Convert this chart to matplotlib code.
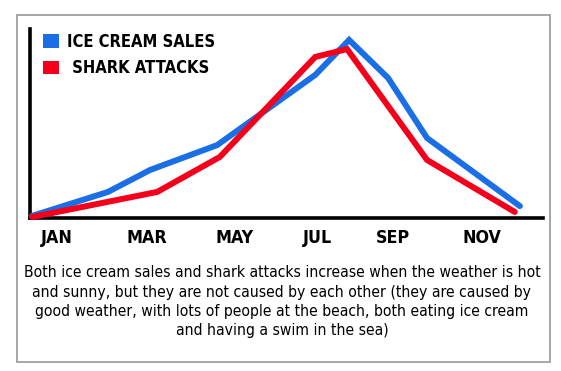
import matplotlib
matplotlib.use("Agg")
import matplotlib.pyplot as plt
from matplotlib.patches import Patch, Rectangle
from matplotlib import font_manager as fm

# ---- data (x in axis units 0-100 along the month axis, y in 0-100 relative) ----
months = ["JAN", "MAR", "MAY", "JUL", "SEP", "NOV"]
month_pos = [5.3, 22.8, 39.8, 56.1, 70.8, 88.1]

ice_x = [0.4, 15.2, 23.4, 36.5, 55.6, 62.2, 69.8, 77.4, 95.5]
ice_y = [1.1, 13.8, 25.4, 38.6, 75.7, 94.2, 74.1, 42.3, 6.3]

shark_x = [0.4, 24.8, 37.0, 55.6, 61.8, 77.4, 94.5]
shark_y = [0.5, 13.8, 32.3, 85.2, 89.4, 30.7, 3.2]

series_labels = ["ICE CREAM SALES", " SHARK ATTACKS"]
caption_lines = [
    "Both ice cream sales and shark attacks increase when the weather is hot",
    "and sunny, but they are not caused by each other (they are caused by",
    "good weather, with lots of people at the beach, both eating ice cream",
    "and having a swim in the sea)",
]

BLUE = "#1a6fe6"
RED = "#f5001c"


def pick_font(bold):
    prefs = ["liberation sans narrow", "dejavu sans", "noto sans", "open sans",
             "roboto", "lato", "inter"]
    found = []
    for f in fm.fontManager.ttflist:
        n = f.name.lower()
        fn = f.fname.lower()
        st = str(f.stretch).lower()
        cond = ("narrow" in n or "condensed" in n or "narrow" in fn
                or "condensed" in fn or st in ("condensed", "semi-condensed",
                                               "extra-condensed"))
        if not cond or "extra" in fn or "ultra" in fn or "semi" in fn:
            continue
        if f.style != "normal" or "italic" in fn or "oblique" in fn:
            continue
        w = f.weight
        try:
            w = int(w)
        except (TypeError, ValueError):
            w = 700 if "bold" in str(w) else 400
        is_bold = w >= 600
        if is_bold != bold:
            continue
        if bold and w > 750:
            continue
        if (not bold) and (w < 350 or w > 450):
            continue
        rank = len(prefs)
        for i, p in enumerate(prefs):
            if n.startswith(p):
                rank = i
                break
        found.append((rank, fn, f.fname))
    if found:
        found.sort()
        return fm.FontProperties(fname=found[0][2])
    return fm.FontProperties(family=["Liberation Sans", "DejaVu Sans"],
                             weight="bold" if bold else "normal")


FP_BOLD = pick_font(True)
FP_REG = pick_font(False)

W, H = 561, 371
fig = plt.figure(figsize=(W / 100, H / 100), dpi=100)
fig.patch.set_facecolor("white")


def fx(px):
    return px / W


def fy(py):
    return 1 - py / H


def fit_size(text, fp, target_px, base=14.0):
    t = fig.text(0, 0, text, fontproperties=fp, fontsize=base)
    r = fig.canvas.get_renderer()
    wpx = t.get_window_extent(renderer=r).width
    t.remove()
    return base * target_px / wpx


# outer box
fig.patches.append(Rectangle((fx(17), fy(362)), fx(550) - fx(17), fy(15) - fy(362),
                             transform=fig.transFigure, fill=False,
                             edgecolor="#8f8f8f", linewidth=1.1))

ax = fig.add_axes([fx(30), fy(218), fx(543) - fx(30), fy(29) - fy(218)])
ax.set_xlim(0, 100)
ax.set_ylim(0, 100)
ax.plot(ice_x, ice_y, color=BLUE, linewidth=4.3, solid_joinstyle="miter",
        solid_capstyle="round", clip_on=False, zorder=3)
ax.plot(shark_x, shark_y, color=RED, linewidth=4.3, solid_joinstyle="miter",
        solid_capstyle="round", clip_on=False, zorder=4)

for s in ["top", "right"]:
    ax.spines[s].set_visible(False)
for s in ["left", "bottom"]:
    ax.spines[s].set_linewidth(2.6)
    ax.spines[s].set_color("black")
ax.set_yticks([])

tick_size = fit_size("JAN", FP_BOLD, 29) * 1.1
leg_size = fit_size("ICE CREAM SALES", FP_BOLD, 142) * 1.05
cap_size = fit_size(caption_lines[0], FP_REG, 521)

ax.set_xticks(month_pos)
ax.set_xticklabels(months, fontproperties=FP_BOLD, fontsize=tick_size)
ax.tick_params(axis="x", length=0, pad=8)
ax.set_facecolor("none")

leg_fp = FP_BOLD.copy()
leg_fp.set_size(leg_size)
em = leg_size * 100 / 72
handles = [Patch(facecolor=BLUE, edgecolor="none"), Patch(facecolor=RED, edgecolor="none")]
leg = ax.legend(handles, series_labels, loc="upper left",
                bbox_to_anchor=(fx(43), fy(33)), bbox_transform=fig.transFigure,
                frameon=False, borderpad=0, borderaxespad=0,
                handlelength=16 / em, handleheight=15 / em,
                handletextpad=8 / em, labelspacing=0.5, prop=leg_fp)

for i, line in enumerate(caption_lines):
    fig.text(fx(282), fy(277 + 19.5 * i), line, ha="center", va="baseline",
             fontproperties=FP_REG, fontsize=cap_size)

fig.savefig("out.png", dpi=100)
